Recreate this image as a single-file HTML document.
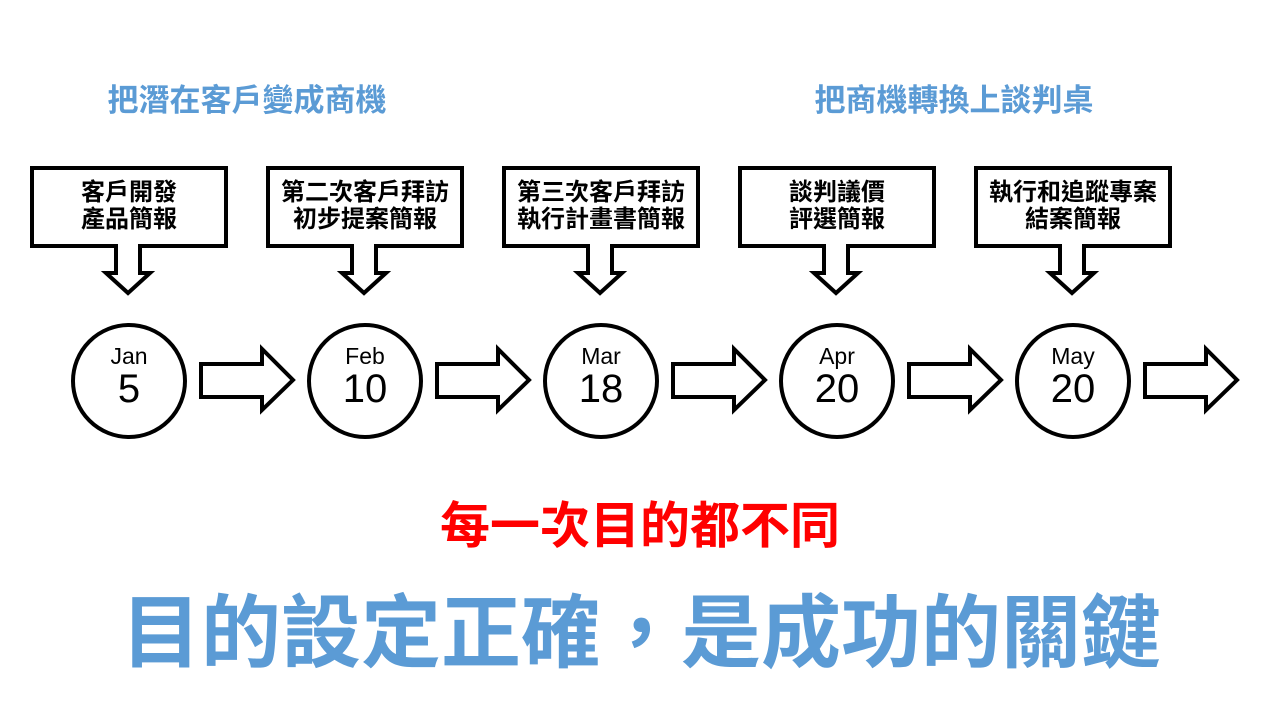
<!DOCTYPE html>
<html><head><meta charset="utf-8"><style>
body{margin:0;width:1280px;height:720px;background:#fff;overflow:hidden}
svg text{font-family:"Liberation Sans","Noto Sans CJK TC",sans-serif}
</style></head><body>
<svg width="1280" height="720" viewBox="0 0 1280 720" xmlns="http://www.w3.org/2000/svg">
<g font-weight="bold" fill="#5b9bd5" font-size="31">
<text x="247" y="111" text-anchor="middle">把潛在客戶變成商機</text>
<text x="954" y="111" text-anchor="middle">把商機轉換上談判桌</text>
</g>
<g id="items" stroke="#000" stroke-width="4" fill="#fff">
<g transform="translate(0,0)"><path d="M32 168H226V246H140V273H150L128 293L106 273H116V246H32Z"/><circle cx="129" cy="381" r="56"/><path d="M201 364H262V349L293 380L262 410V397H201Z"/></g>
<g transform="translate(236,0)"><path d="M32 168H226V246H140V273H150L128 293L106 273H116V246H32Z"/><circle cx="129" cy="381" r="56"/><path d="M201 364H262V349L293 380L262 410V397H201Z"/></g>
<g transform="translate(472,0)"><path d="M32 168H226V246H140V273H150L128 293L106 273H116V246H32Z"/><circle cx="129" cy="381" r="56"/><path d="M201 364H262V349L293 380L262 410V397H201Z"/></g>
<g transform="translate(708,0)"><path d="M32 168H226V246H140V273H150L128 293L106 273H116V246H32Z"/><circle cx="129" cy="381" r="56"/><path d="M201 364H262V349L293 380L262 410V397H201Z"/></g>
<g transform="translate(944,0)"><path d="M32 168H226V246H140V273H150L128 293L106 273H116V246H32Z"/><circle cx="129" cy="381" r="56"/><path d="M201 364H262V349L293 380L262 410V397H201Z"/></g>
</g>
<g font-weight="bold" font-size="24" text-anchor="middle" fill="#000">
<text x="129" y="200">客戶開發</text><text x="129" y="227">產品簡報</text>
<text x="365" y="200">第二次客戶拜訪</text><text x="365" y="227">初步提案簡報</text>
<text x="601" y="200">第三次客戶拜訪</text><text x="601" y="227">執行計畫書簡報</text>
<text x="837" y="200">談判議價</text><text x="837" y="227">評選簡報</text>
<text x="1073" y="200">執行和追蹤專案</text><text x="1073" y="227">結案簡報</text>
</g>
<g text-anchor="middle" fill="#000">
<g font-size="23"><text x="129" y="364">Jan</text><text x="365" y="364">Feb</text><text x="601" y="364">Mar</text><text x="837" y="364">Apr</text><text x="1073" y="364">May</text></g>
<g font-size="40"><text x="129" y="402">5</text><text x="365" y="402">10</text><text x="601" y="402">18</text><text x="837" y="402">20</text><text x="1073" y="402">20</text></g>
</g>
<text x="640" y="543" text-anchor="middle" font-size="50" font-weight="bold" fill="#ff0000">每一次目的都不同</text>
<text x="641" y="661" text-anchor="middle" font-size="80" font-weight="bold" fill="#5b9bd5">目的設定正確，是成功的關鍵</text>
</svg>
</body></html>
